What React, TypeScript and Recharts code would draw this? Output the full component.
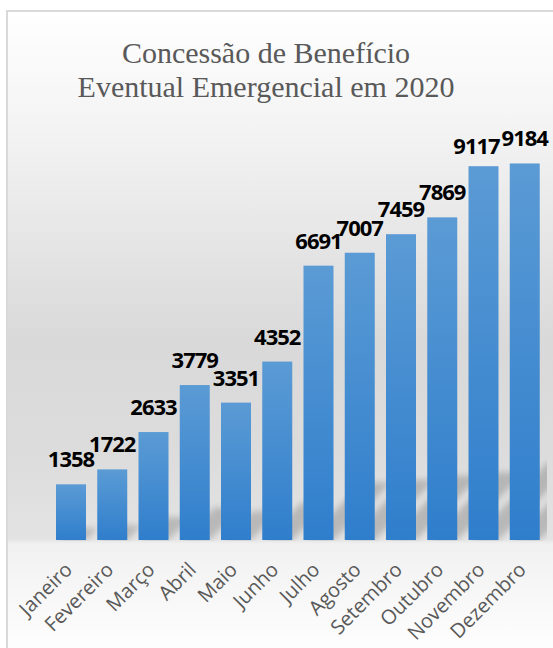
import { BarChart, Bar, XAxis, YAxis, LabelList } from "recharts";

const months = [
  "Janeiro",
  "Fevereiro",
  "Março",
  "Abril",
  "Maio",
  "Junho",
  "Julho",
  "Agosto",
  "Setembro",
  "Outubro",
  "Novembro",
  "Dezembro",
];

const concessoes = [1358, 1722, 2633, 3779, 3351, 4352, 6691, 7007, 7459, 7869, 9117, 9184];

const titleLines = ["Concessão de Benefício", "Eventual Emergencial em 2020"];

const data = months.map((month, i) => ({ month, total: concessoes[i] }));

const GREY_TEXT = "#595959";

// bar + soft cast shadow going up-right behind it
const BarWithShadow = (props: any) => {
  const { x, y, width, height } = props;
  if (!height || height <= 0) return null;
  const bottom = y + height;
  const sh = height * 0.21;
  const pts = [
    [x + 2, bottom],
    [x + width, bottom],
    [x + width + sh, bottom - sh],
    [x + 2 + sh, bottom - sh],
  ]
    .map((p) => p.join(","))
    .join(" ");
  return (
    <g>
      <polygon points={pts} fill="#000" opacity={0.18} filter="url(#barBlur)" clipPath="url(#plotClip)" />
      <rect x={x} y={y} width={width} height={height} fill="url(#barFill)" />
    </g>
  );
};

const MonthTick = (props: any) => {
  const { x, y, payload } = props;
  const ax = x + 3;
  const ay = y + 31;
  return (
    <text
      x={ax}
      y={ay}
      transform={`rotate(-45, ${ax}, ${ay})`}
      textAnchor="end"
      fill={GREY_TEXT}
      fontFamily="'Open Sans', sans-serif"
      fontSize={20}
    >
      {payload.value}
    </text>
  );
};

const ValueLabel = (props: any) => {
  const { x, y, width, value, index } = props;
  // when the next bar is almost the same height the labels would collide,
  // so this one is pushed a bit left and down (like the original)
  const next = concessoes[index + 1];
  const crowded = next !== undefined && Math.abs(next - value) < 150;
  const dx = crowded ? -7 : 0;
  const dy = crowded ? 5 : 0;
  return (
    <text
      x={x + width / 2 + dx}
      y={y - 17 + dy}
      textAnchor="middle"
      fill="#000"
      fontFamily="'Open Sans', sans-serif"
      fontWeight={700}
      fontSize={22}
      letterSpacing={-1}
    >
      {value}
    </text>
  );
};

export default function App() {
  return (
    <div
      style={{
        position: "absolute",
        left: 0,
        top: 0,
        width: 553,
        height: 648,
        overflow: "hidden",
        background: "#fff",
      }}
    >
      <div
        style={{
          position: "absolute",
          left: 6,
          top: 10,
          width: 620,
          height: 700,
          border: "2px solid #d9d9d9",
          background:
            "linear-gradient(to bottom, #ffffff 0px, #f3f3f3 120px, #d9d9d9 330px, #dcdcdc 440px, #e3e3e3 527px, #f1f1f1 532px, #fdfdfd 630px, #ffffff 700px)",
        }}
      />
      <svg width={0} height={0} style={{ position: "absolute" }}>
        <defs>
          <linearGradient id="barFill" x1="0" y1="0" x2="0" y2="1">
            <stop offset="0%" stopColor="#5b9bd5" />
            <stop offset="100%" stopColor="#2f7ecc" />
          </linearGradient>
          <filter id="barBlur" x="-50%" y="-50%" width="200%" height="200%">
            <feGaussianBlur stdDeviation="3" />
          </filter>
          <clipPath id="plotClip">
            <rect x={0} y={0} width={547} height={541} />
          </clipPath>
        </defs>
      </svg>
      <svg
        width={553}
        height={648}
        style={{ position: "absolute", left: 0, top: 0 }}
      >
        {titleLines.map((line, i) => (
          <text
            key={line}
            x={266}
            y={63 + i * 34}
            textAnchor="middle"
            fill={GREY_TEXT}
            fontFamily="'Liberation Serif', 'Times New Roman', serif"
            fontSize={30}
          >
            {line}
          </text>
        ))}
      </svg>
      <div style={{ position: "absolute", left: 0, top: 0 }}>
        <BarChart
          width={553}
          height={648}
          data={data}
          margin={{ top: 130, right: 8, left: 50, bottom: 0 }}
          barSize={30}
        >
          <XAxis
            dataKey="month"
            height={108}
            interval={0}
            axisLine={false}
            tickLine={false}
            tickSize={0}
            tickMargin={0}
            tick={<MonthTick />}
          />
          <YAxis hide domain={[0, 10000]} />
          <Bar dataKey="total" shape={<BarWithShadow />} isAnimationActive={false}>
            <LabelList dataKey="total" content={<ValueLabel />} />
          </Bar>
        </BarChart>
      </div>
    </div>
  );
}
